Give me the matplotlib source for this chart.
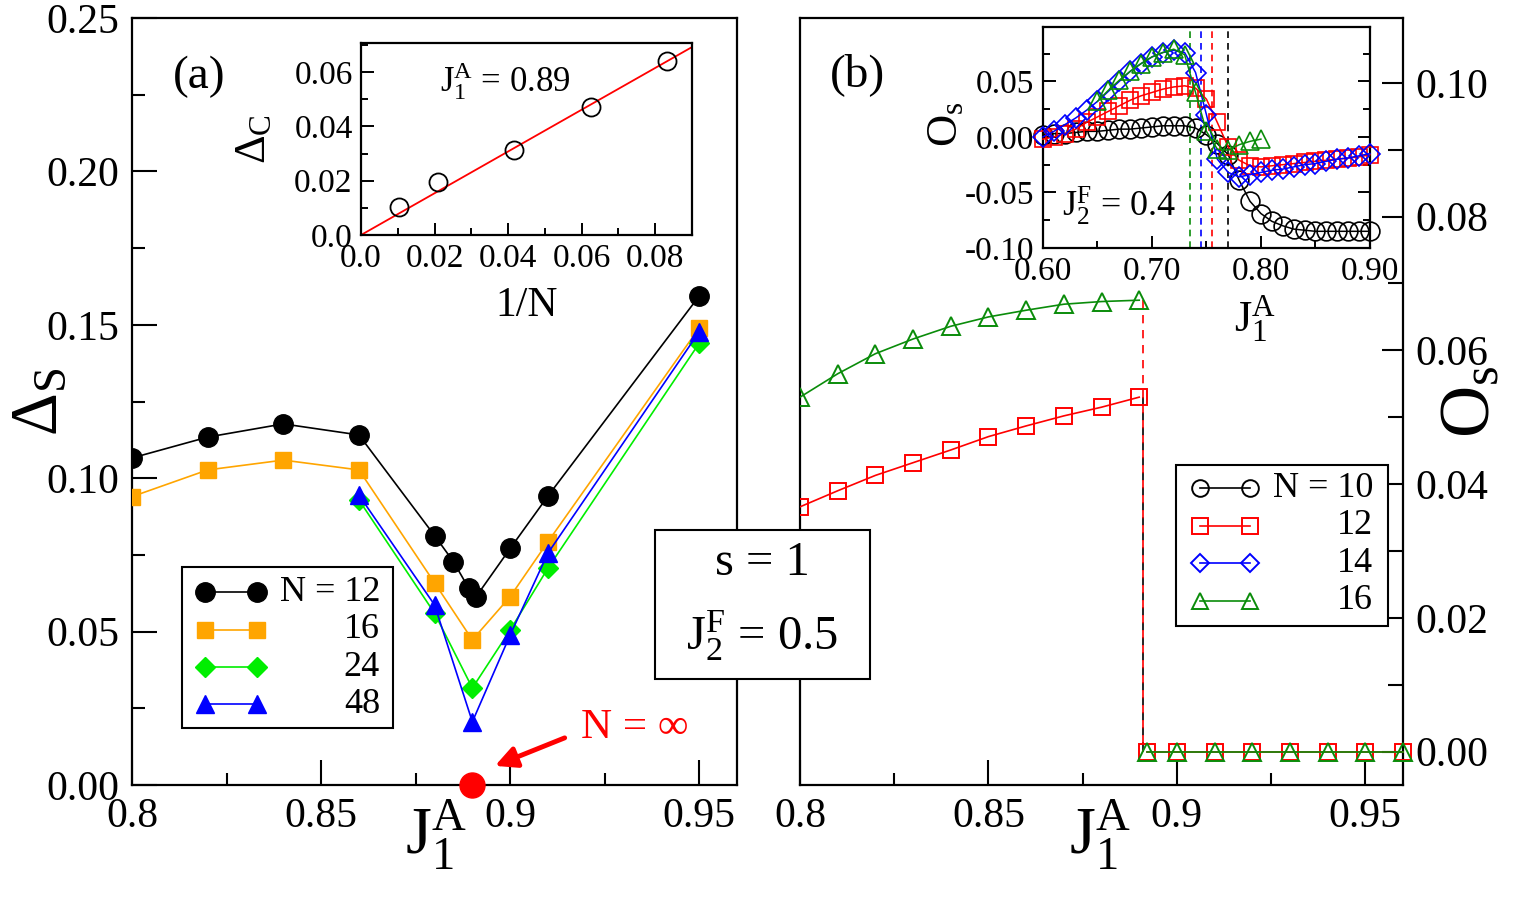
import numpy as np
import matplotlib
matplotlib.use('Agg')
import matplotlib.pyplot as plt
from matplotlib.patches import Rectangle
from matplotlib.ticker import MultipleLocator, FuncFormatter

plt.rcParams['font.family'] = ['Liberation Serif', 'DejaVu Serif']
plt.rcParams['mathtext.fontset'] = 'custom'
plt.rcParams['mathtext.rm'] = 'Liberation Serif'
plt.rcParams['mathtext.it'] = 'Liberation Serif'
plt.rcParams['mathtext.bf'] = 'Liberation Serif:bold'
plt.rcParams['axes.unicode_minus'] = False

# ---- panel (a): spin gap vs J1A
j_n12 = [0.80, 0.82, 0.84, 0.86, 0.88, 0.885, 0.889, 0.891, 0.90, 0.91, 0.95]
gap_n12 = [0.1066, 0.1134, 0.1177, 0.1141, 0.0813, 0.0728, 0.0642, 0.0614, 0.0771, 0.0942, 0.1594]
j_n16 = [0.80, 0.82, 0.84, 0.86, 0.88, 0.89, 0.90, 0.91, 0.95]
gap_n16 = [0.0940, 0.1027, 0.1059, 0.1027, 0.0659, 0.0473, 0.0614, 0.0793, 0.1490]
j_large = [0.86, 0.88, 0.89, 0.90, 0.91, 0.95]
gap_n24 = [0.0929, 0.0560, 0.0316, 0.0505, 0.0707, 0.1440]
gap_n48 = [0.0945, 0.0587, 0.0206, 0.0489, 0.0756, 0.1477]
j_crit = 0.89
gap_inf = 0.0

# inset (a): gap at J1A = 0.89 vs 1/N
inv_n = [1 / 96, 1 / 48, 1 / 24, 1 / 16, 1 / 12]
gap_c = [0.0104, 0.0196, 0.0313, 0.0470, 0.0640]

# ---- panel (b): order parameter vs J1A
j_b = [0.80, 0.81, 0.82, 0.83, 0.84, 0.85, 0.86, 0.87, 0.88, 0.89]
os_n12 = [0.0366, 0.0390, 0.0413, 0.0432, 0.0451, 0.0471, 0.0487, 0.0502, 0.0515, 0.0530]
os_n16 = [0.0530, 0.0565, 0.0595, 0.0617, 0.0636, 0.0650, 0.0660, 0.0669, 0.0673, 0.0675]
j_jump = 0.891
j_zero = [0.892, 0.90, 0.91, 0.92, 0.93, 0.94, 0.95, 0.96]
os_zero = [0.0, 0.0, 0.0, 0.0, 0.0, 0.0, 0.0, 0.0]

# inset (b): J2F = 0.4
j_ins = [0.60, 0.61, 0.62, 0.63, 0.64, 0.65, 0.66, 0.67, 0.68, 0.69, 0.70,
         0.71, 0.72, 0.73, 0.74, 0.75, 0.76, 0.77, 0.78, 0.79, 0.80,
         0.81, 0.82, 0.83, 0.84, 0.85, 0.86, 0.87, 0.88, 0.89, 0.90]
ins_n10 = [0.002, 0.003, 0.003, 0.004, 0.005, 0.005, 0.006, 0.007, 0.007, 0.008, 0.009,
           0.010, 0.010, 0.010, 0.008, 0.002, -0.006, -0.016, -0.039, -0.058, -0.069,
           -0.076, -0.080, -0.083, -0.084, -0.085, -0.085, -0.085, -0.085, -0.085, -0.085]
ins_n12 = [-0.002, 0.000, 0.003, 0.007, 0.013, 0.018, 0.023, 0.028, 0.033, 0.037, 0.040,
           0.043, 0.045, 0.046, 0.044, 0.034, 0.013, -0.009, -0.021, -0.026, -0.027,
           -0.026, -0.025, -0.024, -0.023, -0.022, -0.021, -0.020, -0.019, -0.018, -0.016]
ins_n14 = [0.000, 0.005, 0.011, 0.017, 0.024, 0.032, 0.041, 0.050, 0.059, 0.066, 0.072,
           0.076, 0.078, 0.076, 0.058, 0.020, -0.020, -0.032, -0.036, -0.034, -0.032,
           -0.030, -0.029, -0.027, -0.025, -0.024, -0.022, -0.020, -0.019, -0.017, -0.015]
j_ins16 = [0.65, 0.66, 0.67, 0.68, 0.69, 0.70, 0.71, 0.72, 0.73, 0.74, 0.75,
           0.76, 0.77, 0.78, 0.79, 0.80]
ins_n16 = [0.032, 0.042, 0.051, 0.059, 0.066, 0.072, 0.076, 0.079, 0.074, 0.040, 0.005,
           -0.011, -0.012, -0.007, -0.004, -0.002]
j_trans = [0.735, 0.745, 0.755, 0.770]   # N = 16, 14, 12, 10

GREEN_B = '#0a8c0a'

fig = plt.figure(figsize=(15.25, 9.05), dpi=100)
ax_a = fig.add_axes([0.0866, 0.1326, 0.3967, 0.8475])
ax_b = fig.add_axes([0.5246, 0.1326, 0.3954, 0.8475])
ins_a = fig.add_axes([0.2367, 0.7403, 0.2170, 0.2122])
ins_b = fig.add_axes([0.6839, 0.7260, 0.2144, 0.2442])

fmt_g = FuncFormatter(lambda v, p: '%g' % round(v, 3))
fmt_2 = FuncFormatter(lambda v, p: '%.2f' % v)
fmt_in = FuncFormatter(lambda v, p: '0.0' if abs(v) < 1e-9 else '%.2f' % v)

for ax in (ax_a, ax_b, ins_a, ins_b):
    for s in ax.spines.values():
        s.set_linewidth(1.6)

# ---------------- panel (a)
lw = 1.2
ax_a.plot(j_n12, gap_n12, '-o', color='black', ms=14, lw=lw, zorder=4)
ax_a.plot(j_n16, gap_n16, '-s', color='#ffa500', ms=12, lw=lw, zorder=3)
ax_a.plot(j_large, gap_n24, '-D', color='#00ee00', ms=10, lw=lw, zorder=3)
ax_a.plot(j_large, gap_n48, '-^', color='#0000ff', ms=13, lw=lw, zorder=3)
ax_a.plot([j_crit], [gap_inf], 'o', color='red', ms=18, clip_on=False, zorder=6)
ax_a.annotate('', xy=(0.8953, 0.0059), xytext=(0.9151, 0.0157),
              arrowprops=dict(arrowstyle='-|>', color='red', lw=3.5, mutation_scale=32))
ax_a.text(0.9188, 0.0186, 'N = ∞', color='red', fontsize=31, ha='left', va='center')

ax_a.set_xlim(0.8, 0.96)
ax_a.set_ylim(0, 0.25)
ax_a.xaxis.set_major_locator(MultipleLocator(0.05))
ax_a.xaxis.set_minor_locator(MultipleLocator(0.025))
ax_a.yaxis.set_major_locator(MultipleLocator(0.05))
ax_a.yaxis.set_minor_locator(MultipleLocator(0.025))
ax_a.xaxis.set_major_formatter(fmt_g)
ax_a.yaxis.set_major_formatter(fmt_2)
ax_a.tick_params(which='both', direction='in', top=False, right=False, width=1.5, labelsize=30)
ax_a.tick_params(which='major', length=18, pad=9)
ax_a.tick_params(which='minor', length=9)
ax_a.set_ylabel(r'$\Delta_\mathrm{S}$', fontsize=48)
ax_a.yaxis.set_label_coords(-0.102, 0.5)
ax_a.set_xlabel(r'$\mathrm{J_1^A}$', fontsize=48)
ax_a.xaxis.set_label_coords(0.502, -0.016)
ax_a.text(0.111, 0.909, '(a)', transform=ax_a.transAxes, fontsize=34, ha='center', va='baseline')


def draw_legend(ax, box, rows, hx, tx, styles, labels, fs):
    x0, y0, x1, y1 = box
    ax.add_patch(Rectangle((x0, y0), x1 - x0, y1 - y0, transform=ax.transAxes,
                           fc='white', ec='black', lw=1.5, zorder=6, clip_on=False))
    for y, st, lab in zip(rows, styles, labels):
        ax.plot(hx, [y, y], transform=ax.transAxes, zorder=7, clip_on=False, **st)
        ax.text(tx, y, lab, transform=ax.transAxes, ha='right', va='center',
                fontsize=fs, zorder=7)


sty_a = [dict(color='black', marker='o', ms=14, lw=lw),
         dict(color='#ffa500', marker='s', ms=12, lw=lw),
         dict(color='#00ee00', marker='D', ms=10, lw=lw),
         dict(color='#0000ff', marker='^', ms=13, lw=lw)]
draw_legend(ax_a, (0.0826, 0.0743, 0.4314, 0.2842), [0.2516, 0.2021, 0.1538, 0.1056],
            [0.1207, 0.2066], 0.4099, sty_a, ['N = 12', '16', '24', '48'], 26)

# ---------------- inset (a)
slope = np.sum(np.array(inv_n) * np.array(gap_c)) / np.sum(np.array(inv_n) ** 2)
xfit = np.array([0.0, 0.09])
ins_a.plot(xfit, slope * xfit, color='red', lw=1.3)
ins_a.plot(inv_n, gap_c, 'o', mfc='none', mec='black', mew=1.3, ms=13)
ins_a.set_xlim(0, 0.09)
ins_a.set_ylim(0, 0.0707)
ins_a.xaxis.set_major_locator(MultipleLocator(0.02))
ins_a.xaxis.set_minor_locator(MultipleLocator(0.01))
ins_a.yaxis.set_major_locator(MultipleLocator(0.02))
ins_a.yaxis.set_minor_locator(MultipleLocator(0.01))
ins_a.xaxis.set_major_formatter(fmt_in)
ins_a.yaxis.set_major_formatter(fmt_in)
ins_a.tick_params(which='both', direction='in', top=False, right=False, width=1.4, labelsize=24)
ins_a.tick_params(which='major', length=9, pad=6)
ins_a.tick_params(which='minor', length=5)
ins_a.set_xlabel('1/N', fontsize=30)
ins_a.xaxis.set_label_coords(0.502, -0.27)
ins_a.set_ylabel(r'$\Delta_\mathrm{C}$', fontsize=32)
ins_a.yaxis.set_label_coords(-0.263, 0.5)
ins_a.text(0.435, 0.80, r'$\mathrm{J_1^A}$ = 0.89', transform=ins_a.transAxes,
           fontsize=25, ha='center', va='center')

# ---------------- panel (b)
ax_b.plot(j_b, os_n12, '-s', color='red', mfc='none', ms=12, mew=1.4, lw=lw, zorder=3)
ax_b.plot(j_b, os_n16, '-^', color=GREEN_B, mfc='none', ms=13, mew=1.4, lw=lw, zorder=3)
ax_b.plot([j_jump, j_jump], [os_n12[-1], 0], '--', color='black', lw=1.2, dashes=(5, 4), zorder=2)
ax_b.plot([j_jump, j_jump], [os_n16[-1], 0], '--', color='red', lw=1.2, dashes=(5, 4), zorder=2)
ax_b.plot(j_zero, os_zero, '-s', color='red', mfc='none', ms=12, mew=1.4, lw=lw, clip_on=False, zorder=3)
ax_b.plot(j_zero, os_zero, '-^', color=GREEN_B, mfc='none', ms=13, mew=1.4, lw=lw, clip_on=False, zorder=4)
ax_b.set_xlim(0.8, 0.96)
ax_b.set_ylim(-0.005, 0.1097)
ax_b.xaxis.set_major_locator(MultipleLocator(0.05))
ax_b.xaxis.set_minor_locator(MultipleLocator(0.025))
ax_b.yaxis.set_major_locator(MultipleLocator(0.02))
ax_b.yaxis.set_minor_locator(MultipleLocator(0.01))
ax_b.xaxis.set_major_formatter(fmt_g)
ax_b.yaxis.set_major_formatter(fmt_2)
ax_b.yaxis.set_label_position('right')
ax_b.tick_params(which='both', direction='in', top=False, left=False, labelleft=False,
                 right=True, labelright=True, width=1.5, labelsize=30)
ax_b.tick_params(which='major', length=18, pad=9)
ax_b.tick_params(which='minor', length=9)
ax_b.tick_params(axis='y', which='major', length=15)
ax_b.tick_params(axis='y', which='minor', length=11)
ax_b.set_ylabel(r'$\mathrm{O_s}$', fontsize=52)
ax_b.yaxis.set_label_coords(1.061, 0.5)
ax_b.set_xlabel(r'$\mathrm{J_1^A}$', fontsize=48)
ax_b.xaxis.set_label_coords(0.4975, -0.016)
ax_b.text(0.096, 0.911, '(b)', transform=ax_b.transAxes, fontsize=34, ha='center', va='baseline')

sty_b = [dict(color='black', marker='o', mfc='none', ms=12, mew=1.4, lw=lw),
         dict(color='red', marker='s', mfc='none', ms=11, mew=1.4, lw=lw),
         dict(color='blue', marker='D', mfc='none', ms=9, mew=1.4, lw=lw),
         dict(color=GREEN_B, marker='^', mfc='none', ms=12, mew=1.4, lw=lw)]
draw_legend(ax_b, (0.6235, 0.2073, 0.9751, 0.4172), [0.3872, 0.3377, 0.2894, 0.2399],
            [0.6633, 0.7463], 0.9502, sty_b, ['N = 10', '12', '14', '16'], 26)

# ---------------- inset (b)
for xv, c in zip(j_trans, [GREEN_B, 'blue', 'red', 'black']):
    ins_b.axvline(xv, color=c, ls='--', lw=1.2, dashes=(4, 3), zorder=1)
ins_b.plot(j_ins, ins_n10, '-o', color='black', mfc='none', ms=13.5, mew=1.2, lw=1.1, clip_on=False, zorder=3)
ins_b.plot(j_ins, ins_n12, '-s', color='red', mfc='none', ms=11.5, mew=1.2, lw=1.1, clip_on=False, zorder=3)
ins_b.plot(j_ins, ins_n14, '-D', color='blue', mfc='none', ms=10.5, mew=1.2, lw=1.1, clip_on=False, zorder=3)
ins_b.plot(j_ins16, ins_n16, '-^', color=GREEN_B, mfc='none', ms=13, mew=1.2, lw=1.1, clip_on=False, zorder=4)
ins_b.set_xlim(0.6, 0.9)
ins_b.set_ylim(-0.1, 0.099)
ins_b.xaxis.set_major_locator(MultipleLocator(0.1))
ins_b.xaxis.set_minor_locator(MultipleLocator(0.05))
ins_b.yaxis.set_major_locator(MultipleLocator(0.05))
ins_b.yaxis.set_minor_locator(MultipleLocator(0.025))
ins_b.xaxis.set_major_formatter(fmt_2)
ins_b.yaxis.set_major_formatter(fmt_2)
ins_b.tick_params(which='both', direction='in', top=False, right=True, width=1.4, labelsize=24)
ins_b.tick_params(which='major', length=9, pad=6)
ins_b.tick_params(which='minor', length=5)
ins_b.set_ylabel(r'$\mathrm{O_s}$', fontsize=32)
ins_b.yaxis.set_label_coords(-0.235, 0.56)
ins_b.set_xlabel(r'$\mathrm{J_1^A}$', fontsize=32)
ins_b.xaxis.set_label_coords(0.648, -0.204)
ins_b.text(0.058, 0.19, r'$\mathrm{J_2^F}$ = 0.4', transform=ins_b.transAxes,
           fontsize=26, ha='left', va='center')

# ---------------- parameter box between the panels
fig.add_artist(Rectangle((0.4295, 0.2497), 0.141, 0.1646, transform=fig.transFigure,
                         fc='white', ec='black', lw=1.5, zorder=5))
fig.text(0.4997, 0.3646, 's = 1', fontsize=35, ha='center', va='baseline', zorder=6)
fig.text(0.4997, 0.2818, r'$\mathrm{J_2^F}$ = 0.5', fontsize=35, ha='center', va='baseline', zorder=6)

fig.savefig('out.png', dpi=100)
